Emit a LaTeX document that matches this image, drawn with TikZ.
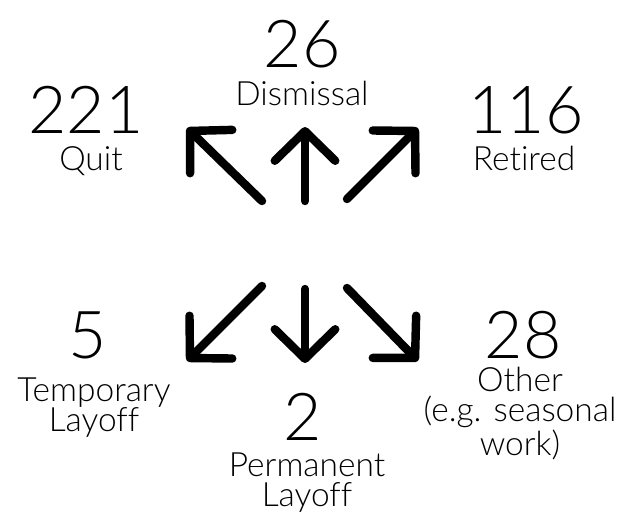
\documentclass[tikz,border=0pt]{standalone}
\usepackage{fontspec}
\IfFontExistsTF{Lato Light}{\setmainfont{Lato Light}[Ligatures=NoCommon]}{\setmainfont{Lato}[Ligatures=NoCommon]}
\usetikzlibrary{arrows.meta,positioning}
\tikzset{
  num/.style={inner sep=0pt, anchor=base, font=\fontsize{47}{47}\selectfont},
  lbl/.style={inner sep=0pt, anchor=base, align=center, font=\fontsize{23.8}{21.3}\selectfont},
  flow/.style={-{Straight Barb[length=21pt,width=43pt,round]}, line width=6pt, line cap=round, line join=round},
}
\begin{document}
\begin{tikzpicture}[x=0.025cm, y=-0.025cm]
  \useasboundingbox (0,0) rectangle (618,514);
  % counts and reasons (multi-line labels sit on their last line)
  \node[num] (dism) at (302,67)  {26};
  \node[lbl] (dismt) at (302,105) {Dismissal};
  \node[num] (quit) at (86,133)  {221};
  \node[lbl] (quitt) at (91,170)  {Quit};
  \node[num] (reti) at (526,133) {116};
  \node[lbl] (retit) at (524,170) {Retired};
  \node[num] (temp) at (88,358)  {5};
  \node[lbl] (tempt) at (94,431)  {Temporary\\Layoff};
  \node[num] (perm) at (303,440) {2};
  \node[lbl] (permt) at (307,506) {Permanent\\Layoff};
  \node[num] (othr) at (523,358) {28};
  \node[lbl] (othrt) at (520,455) {Other\\(e.g. seasonal\\work)};
  % arrow ends
  \coordinate (ul0) at (262,201); \coordinate (ul1) at (187,128);
  \coordinate (u0)  at (305,201); \coordinate (u1)  at (305,127);
  \coordinate (ur0) at (347,199); \coordinate (ur1) at (418,128);
  \coordinate (dl0) at (262,286); \coordinate (dl1) at (187,361);
  \coordinate (d0)  at (305,289); \coordinate (d1)  at (305,363);
  \coordinate (dr0) at (347,288); \coordinate (dr1) at (418,361);
  \draw[flow] (ul0)--(ul1);  \draw[flow] (u0)--(u1);  \draw[flow] (ur0)--(ur1);
  \draw[flow] (dl0)--(dl1);  \draw[flow] (d0)--(d1);  \draw[flow] (dr0)--(dr1);
\end{tikzpicture}
\end{document}
